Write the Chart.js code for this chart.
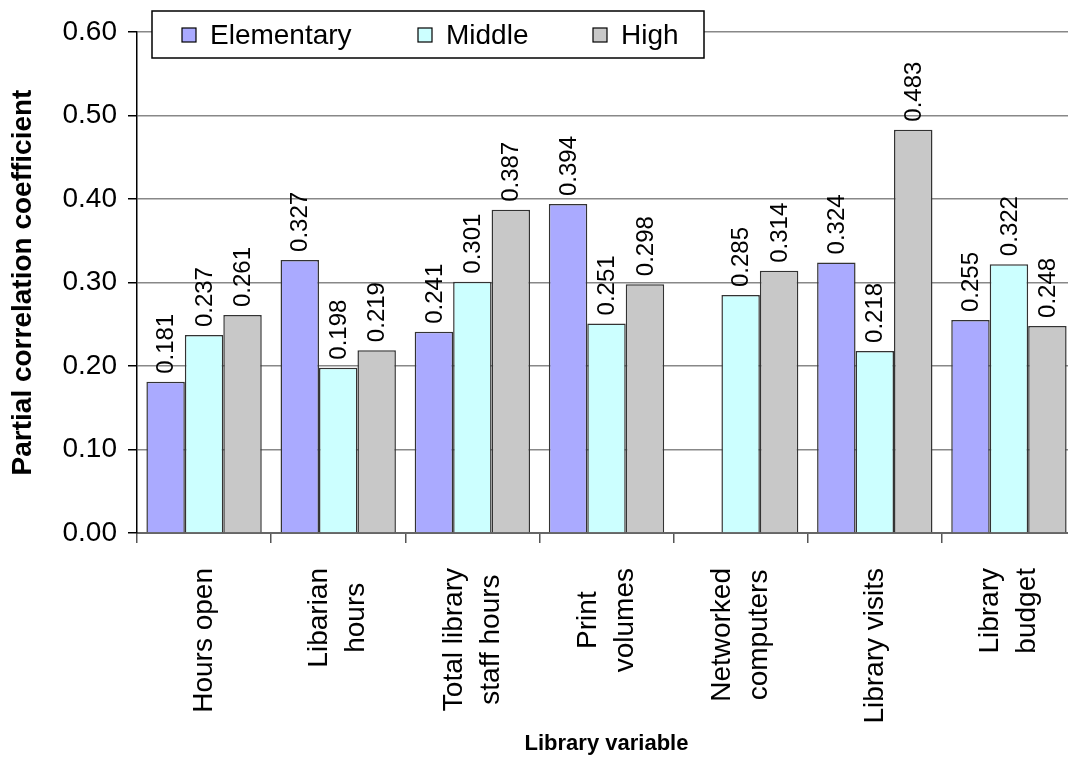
<!DOCTYPE html>
<html>
<head>
<meta charset="utf-8">
<script src="https://cdn.jsdelivr.net/npm/chart.js@4.4.0/dist/chart.umd.min.js"></script>
<style>
  html, body { margin: 0; padding: 0; background: #fff; overflow: hidden; }
  #wrap { width: 1076px; height: 757px; position: relative; }
</style>
</head>
<body>
<div id="wrap"><canvas id="chart"></canvas></div>
<script>
// data
var categories = [
  ["Hours open"],
  ["Libarian", "hours"],
  ["Total library", "staff hours"],
  ["Print", "volumes"],
  ["Networked", "computers"],
  ["Library visits"],
  ["Library", "budget"]
];
var elementary = [0.181, 0.327, 0.241, 0.394, null, 0.324, 0.255];
var middle = [0.237, 0.198, 0.301, 0.251, 0.285, 0.218, 0.322];
var high = [0.261, 0.219, 0.387, 0.298, 0.314, 0.483, 0.248];
var yTicks = [0, 0.1, 0.2, 0.3, 0.4, 0.5, 0.6];
var seriesNames = ["Elementary", "Middle", "High"];
var seriesColors = ["#aaaaff", "#ccffff", "#c8c8c8"];

var FONT = "'Liberation Sans', Arial, sans-serif";

// rotated value labels above each bar
var valueLabels = {
  id: "valueLabels",
  afterDatasetsDraw: function (chart) {
    var ctx = chart.ctx;
    ctx.save();
    ctx.font = "24px " + FONT;
    ctx.fillStyle = "#000";
    ctx.textAlign = "left";
    ctx.textBaseline = "middle";
    chart.data.datasets.forEach(function (ds, i) {
      var meta = chart.getDatasetMeta(i);
      meta.data.forEach(function (bar, j) {
        var v = ds.data[j];
        if (v === null || v === undefined) return;
        ctx.save();
        ctx.translate(bar.x, bar.y - 8);
        ctx.rotate(-Math.PI / 2);
        ctx.fillText(v.toFixed(3), 0, 1);
        ctx.restore();
      });
    });
    ctx.restore();
  }
};

// category labels, vertical, lines centred on each other
var catLabels = {
  id: "catLabels",
  afterDraw: function (chart) {
    var ctx = chart.ctx;
    var scale = chart.scales.x;
    ctx.save();
    ctx.font = "28px " + FONT;
    ctx.fillStyle = "#000";
    ctx.textAlign = "center";
    ctx.textBaseline = "middle";
    categories.forEach(function (lines, i) {
      var x = scale.getPixelForValue(i);
      var w = 0;
      lines.forEach(function (l) { w = Math.max(w, ctx.measureText(l).width); });
      var yc = scale.top + 35 + w / 2;
      lines.forEach(function (l, j) {
        var lx = x + (j - (lines.length - 1) / 2) * 37;
        ctx.save();
        ctx.translate(lx, yc);
        ctx.rotate(-Math.PI / 2);
        ctx.fillText(l, 0, 0);
        ctx.restore();
      });
    });
    ctx.restore();
  }
};

// boxed legend sitting over the top of the plot
var boxLegend = {
  id: "boxLegend",
  afterDraw: function (chart) {
    var ctx = chart.ctx;
    ctx.save();
    ctx.fillStyle = "#fff";
    ctx.fillRect(152, 11, 552, 47);
    ctx.strokeStyle = "#000";
    ctx.lineWidth = 1.5;
    ctx.strokeRect(152, 11, 552, 47);
    var sx = [182, 418, 593];
    ctx.font = "28px " + FONT;
    ctx.textAlign = "left";
    ctx.textBaseline = "middle";
    seriesNames.forEach(function (name, i) {
      ctx.fillStyle = seriesColors[i];
      ctx.fillRect(sx[i], 28, 14, 14);
      ctx.strokeStyle = "#000";
      ctx.lineWidth = 1.2;
      ctx.strokeRect(sx[i], 28, 14, 14);
      ctx.fillStyle = "#000";
      ctx.fillText(name, sx[i] + 28, 36);
    });
    ctx.restore();
  }
};

var datasets = [elementary, middle, high].map(function (vals, i) {
  return {
    label: seriesNames[i],
    data: vals,
    backgroundColor: seriesColors[i],
    borderColor: "#333",
    borderWidth: 1.5,
    barPercentage: 1.0,
    categoryPercentage: 0.86
  };
});

var chart = new Chart(document.getElementById("chart"), {
  type: "bar",
  data: {
    labels: categories.map(function (c) { return c.join(" "); }),
    datasets: datasets
  },
  options: {
    responsive: true,
    maintainAspectRatio: false,
    animation: false,
    devicePixelRatio: 1,
    layout: { padding: { top: 32, right: 0, bottom: 0, left: 0 } },
    plugins: {
      legend: { display: false },
      tooltip: { enabled: false }
    },
    scales: {
      x: {
        afterFit: function (scale) { scale.height = 224; },
        ticks: { display: false },
        grid: {
          offset: true,
          drawOnChartArea: false,
          tickLength: 10,
          color: "#555",
          lineWidth: 1.5
        },
        border: { color: "#666", width: 2 },
        title: {
          display: true,
          text: "Library variable",
          color: "#000",
          font: { family: FONT, size: 22, weight: "bold" },
          padding: { top: 4, bottom: 0 }
        }
      },
      y: {
        min: 0,
        max: 0.6,
        afterFit: function (scale) { scale.width = 137; },
        afterBuildTicks: function (axis) {
          axis.ticks = yTicks.map(function (v) { return { value: v }; });
        },
        ticks: {
          color: "#000",
          padding: 11,
          font: { family: FONT, size: 28 },
          callback: function (v) { return Number(v).toFixed(2); }
        },
        grid: {
          color: "#888",
          lineWidth: 1.5,
          tickColor: "#000",
          tickLength: 9
        },
        border: { color: "#000", width: 1.5 },
        title: {
          display: true,
          text: "Partial correlation coefficient",
          color: "#000",
          font: { family: FONT, size: 28, weight: "bold" },
          padding: { top: 6, bottom: 0 }
        }
      }
    }
  },
  plugins: [valueLabels, catLabels, boxLegend]
});
</script>
</body>
</html>
